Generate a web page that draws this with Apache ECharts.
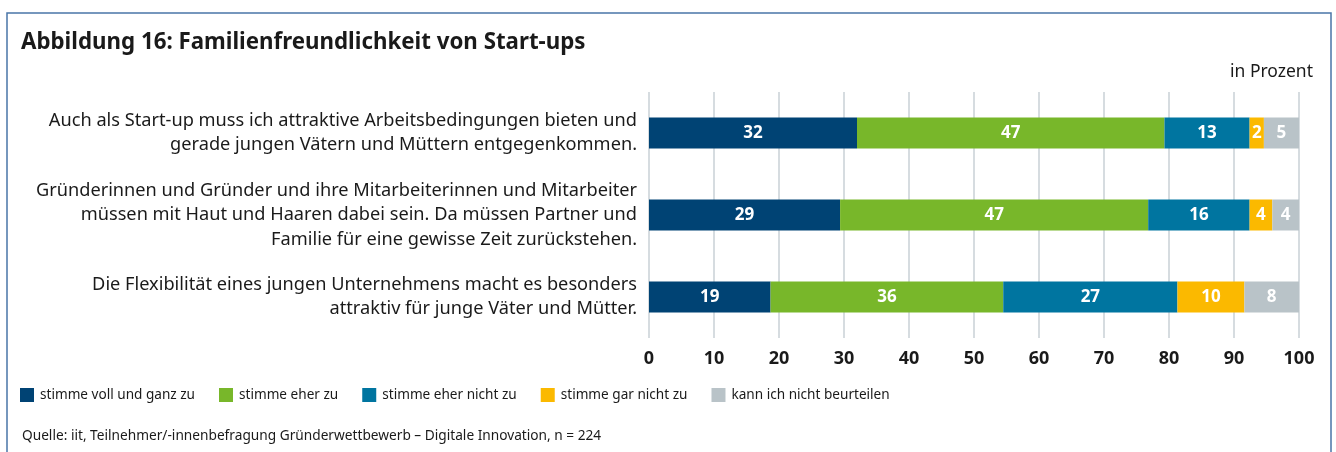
<!DOCTYPE html>
<html>
<head>
<meta charset="utf-8">
<script src="https://cdn.jsdelivr.net/npm/echarts@6/dist/echarts.min.js"></script>
<style>
html,body{margin:0;padding:0;background:#fff;}
#chart{width:1336px;height:452px;}
</style>
</head>
<body>
<div id="chart"></div>
<script>
const categories = [
  "Auch als Start-up muss ich attraktive Arbeitsbedingungen bieten und\ngerade jungen Vätern und Müttern entgegenkommen.",
  "Gründerinnen und Gründer und ihre Mitarbeiterinnen und Mitarbeiter\nmüssen mit Haut und Haaren dabei sein. Da müssen Partner und\nFamilie für eine gewisse Zeit zurückstehen.",
  "Die Flexibilität eines jungen Unternehmens macht es besonders\nattraktiv für junge Väter und Mütter."
];
const seriesNames = ["stimme voll und ganz zu", "stimme eher zu", "stimme eher nicht zu", "stimme gar nicht zu", "kann ich nicht beurteilen"];
const vollUndGanz = [32.0, 29.4, 18.7];
const eherZu = [47.3, 47.4, 35.8];
const eherNicht = [13.1, 15.6, 26.8];
const garNicht = [2.2, 3.5, 10.3];
const nichtBeurteilen = [5.4, 4.1, 8.4];
const colors = ["#004374", "#78b72a", "#0075a0", "#fbb900", "#b9c3c8"];
const xTicks = [0, 10, 20, 30, 40, 50, 60, 70, 80, 90, 100];

const FONT = "Noto Sans";
const seriesData = [vollUndGanz, eherZu, eherNicht, garNicht, nichtBeurteilen];

const chart = echarts.init(document.getElementById('chart'));
chart.setOption({
  animation: false,
  textStyle: { fontFamily: FONT },
  title: {
    text: "Abbildung 16: Familienfreundlichkeit von Start-ups",
    left: 21, top: 32, padding: 0,
    textStyle: { fontFamily: FONT, fontSize: 22.3, fontWeight: 'bold', color: '#1a1a1a' }
  },
  legend: {
    left: 20, top: 388, padding: 0,
    icon: 'rect', itemWidth: 14, itemHeight: 14, itemGap: 24,
    textStyle: { fontFamily: FONT, fontSize: 13.6, color: '#1a1a1a', padding: [0, 0, 0, 1] },
    data: seriesNames
  },
  grid: { left: 649, right: 37, top: 92, bottom: 114, containLabel: false },
  xAxis: {
    type: 'value', min: xTicks[0], max: xTicks[xTicks.length - 1], interval: 10,
    axisLine: { show: false }, axisTick: { show: false },
    splitLine: { show: true, lineStyle: { color: '#c9d1d6', width: 1.5 } },
    axisLabel: { fontFamily: FONT, fontSize: 18, fontWeight: 'bold', color: '#1a1a1a', margin: 12 }
  },
  yAxis: {
    type: 'category', inverse: true, data: categories,
    axisLine: { show: false }, axisTick: { show: false },
    axisLabel: { fontFamily: FONT, fontSize: 18.2, lineHeight: 24.5, color: '#1a1a1a', margin: 12, align: 'right' }
  },
  series: seriesNames.map((name, i) => ({
    name: name, type: 'bar', stack: 'total', barWidth: 31,
    itemStyle: { color: colors[i] },
    label: {
      show: true, position: 'inside', color: '#fff', fontFamily: FONT, fontSize: 17, fontWeight: 'bold',
      formatter: p => String(Math.round(p.value))
    },
    data: seriesData[i]
  })),
  graphic: [
    { type: 'rect', shape: { x: 7, y: 13, width: 1324, height: 460 }, style: { fill: 'none', stroke: '#4a76a8', lineWidth: 1.5 }, silent: true },
    { type: 'text', right: 23, top: 63, style: { text: 'in Prozent', fontFamily: FONT, fontSize: 17.5, fill: '#1a1a1a' } },
    { type: 'text', left: 22, top: 429, style: { text: 'Quelle: iit, Teilnehmer/-innenbefragung Gründerwettbewerb – Digitale Innovation, n = 224', fontFamily: FONT, fontSize: 13.7, fill: '#1a1a1a' } }
  ]
});
</script>
</body>
</html>
